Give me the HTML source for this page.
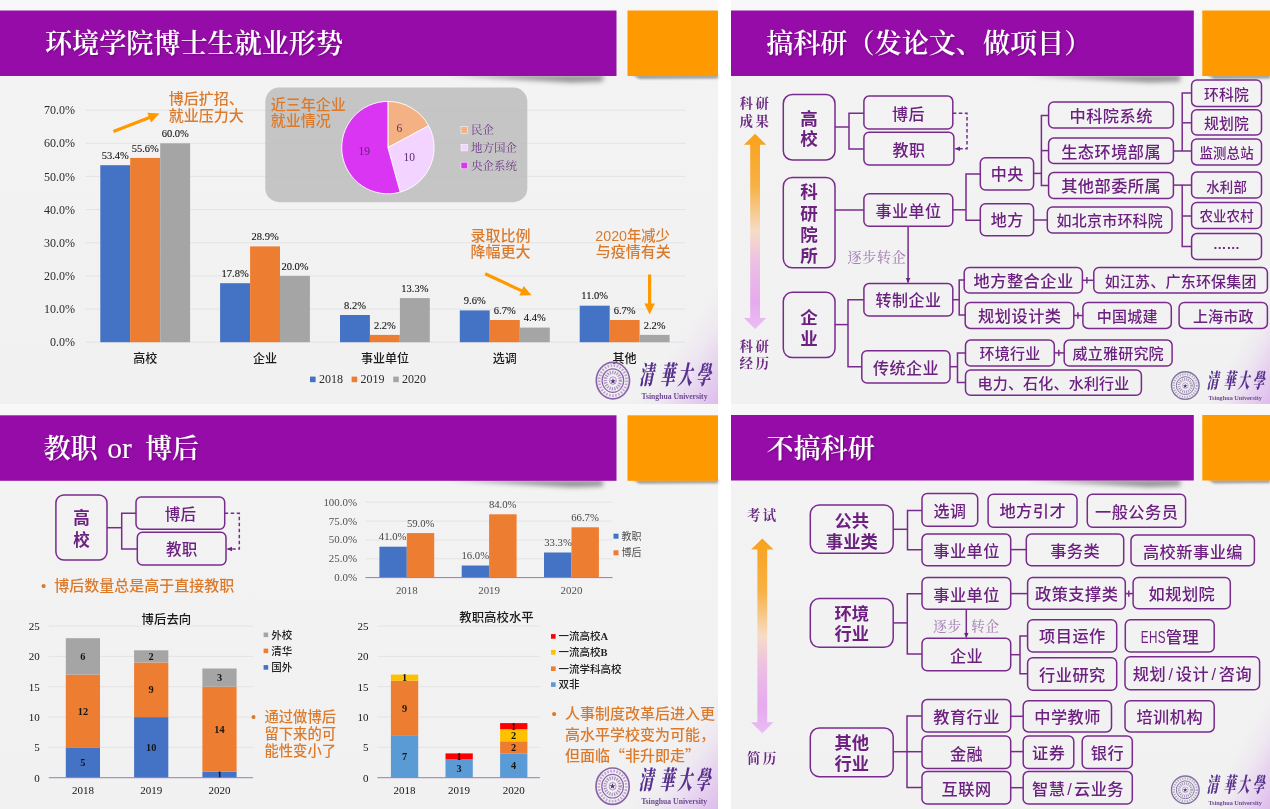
<!DOCTYPE html>
<html lang="zh"><head><meta charset="utf-8"><title>环境学院博士生就业形势</title>
<style>
html,body{margin:0;padding:0;background:#fff;}
body{width:1270px;height:809px;overflow:hidden;}
svg{display:block;}
text{font-family:"Liberation Sans","Noto Sans CJK SC",sans-serif;}
.ttl{font-family:"Liberation Serif","Noto Serif CJK SC",serif;font-size:27.1px;fill:#fff;font-weight:600;}
.ax{font-family:"Liberation Serif",serif;font-size:12px;fill:#2a2a2a;}
.dl{font-family:"Liberation Serif",serif;font-size:10.5px;fill:#111;stroke:#111;stroke-width:0.1;}
.cat{font-size:12px;fill:#1a1a1a;font-weight:500;}
.or{font-size:15px;fill:#dc7a2c;font-weight:500;}
.pl{font-family:"Liberation Serif",serif;font-size:11.5px;fill:#5d2a73;}
.lg{font-family:"Liberation Serif","Noto Serif CJK SC",serif;font-size:11.5px;fill:#6d3a86;}
.en{font-family:"Liberation Serif",serif;fill:#6d4a92;font-weight:700;}
.cal{font-family:"Noto Serif CJK TC","Noto Serif CJK SC",serif;font-weight:900;fill:#56308c;}
.ln{fill:none;stroke:#792b8d;stroke-width:1.5;}
.bx{fill:none;stroke:#792b8d;stroke-width:1.5;}
.bt{fill:#6c2080;}
.kai{font-family:"Liberation Serif","Noto Serif CJK SC",serif;fill:#6a2a82;font-size:13.4px;font-weight:700;}
.kai2{font-family:"Liberation Serif","Noto Serif CJK SC",serif;fill:#a886b8;font-size:14px;font-weight:500;}
.ax2{font-family:"Liberation Serif",serif;font-size:10.9px;fill:#505050;}
.dl2{font-family:"Liberation Serif",serif;font-size:10.7px;fill:#454545;}
.ax3{font-family:"Liberation Serif",serif;font-size:11px;fill:#151515;}
.dl3{font-family:"Liberation Serif",serif;font-size:10.3px;fill:#151515;font-weight:700;}
.ct{font-size:12.4px;fill:#1a1a1a;font-weight:500;}
.lg3{font-size:10.5px;fill:#222;font-weight:500;}
</style></head><body>
<svg width="1270" height="809" viewBox="0 0 1270 809">
<defs>
<linearGradient id="bgv" x1="0" y1="0" x2="0" y2="1"><stop offset="0" stop-color="#f8f8f8"/><stop offset="0.12" stop-color="#f3f3f3"/><stop offset="1" stop-color="#f1f1f1"/></linearGradient>
<radialGradient id="pk" cx="1" cy="1" r="1"><stop offset="0" stop-color="#d8aaec" stop-opacity="0.8"/><stop offset="0.5" stop-color="#dcb6ee" stop-opacity="0.42"/><stop offset="1" stop-color="#e8d0f4" stop-opacity="0"/></radialGradient>
<filter id="sh" x="-5%" y="-20%" width="110%" height="150%"><feDropShadow dx="0" dy="2" stdDeviation="2" flood-color="#000" flood-opacity="0.28"/></filter>
<filter id="sh2" x="-10%" y="-20%" width="120%" height="150%"><feDropShadow dx="0" dy="1.5" stdDeviation="1.5" flood-color="#000" flood-opacity="0.25"/></filter>
<filter id="bl" x="-10%" y="-200%" width="120%" height="500%"><feGaussianBlur stdDeviation="2.6"/></filter><filter id="bl2" x="-10%" y="-200%" width="120%" height="500%"><feGaussianBlur stdDeviation="1.3"/></filter>
<filter id="ts" x="-5%" y="-20%" width="110%" height="150%"><feDropShadow dx="1" dy="1" stdDeviation="1" flood-color="#400050" flood-opacity="0.5"/></filter>
<linearGradient id="ar" x1="0" y1="0" x2="0" y2="1"><stop offset="0" stop-color="#f9a11b"/><stop offset="0.27" stop-color="#f8b145"/><stop offset="0.5" stop-color="#f6dcc6"/><stop offset="0.66" stop-color="#ecbfe4"/><stop offset="0.86" stop-color="#e6aaee"/><stop offset="1" stop-color="#eabdf3"/></linearGradient>
<marker id="ah" markerWidth="6" markerHeight="6" refX="4.6" refY="2.5" orient="auto" markerUnits="userSpaceOnUse"><path d="M0 0.2L5.2 2.5L0 4.8Z" fill="#6a2580"/></marker>
</defs>

<rect x="0.0" y="0.0" width="718.0" height="809.0" fill="#f0f0f0"/>
<rect x="731.0" y="0.0" width="539.0" height="809.0" fill="#f0f0f0"/>
<rect x="0" y="0" width="718" height="404" fill="url(#bgv)"/>
<linearGradient id="pk0_0" gradientUnits="userSpaceOnUse" x1="662" y1="362" x2="718" y2="404"><stop offset="0" stop-color="#dcb4ee" stop-opacity="0"/><stop offset="0.3" stop-color="#dcb4ee" stop-opacity="0.14"/><stop offset="0.65" stop-color="#dab0ed" stop-opacity="0.48"/><stop offset="1" stop-color="#d6a8eb" stop-opacity="0.74"/></linearGradient>
<polygon points="626,404 718,282 718,404" fill="url(#pk0_0)"/>
<rect x="731" y="0" width="539" height="404" fill="url(#bgv)"/>
<linearGradient id="pk731_0" gradientUnits="userSpaceOnUse" x1="1220" y1="375" x2="1270" y2="404"><stop offset="0" stop-color="#dcb4ee" stop-opacity="0"/><stop offset="0.3" stop-color="#dcb4ee" stop-opacity="0.14"/><stop offset="0.65" stop-color="#dab0ed" stop-opacity="0.48"/><stop offset="1" stop-color="#d6a8eb" stop-opacity="0.74"/></linearGradient>
<polygon points="1200,404 1270,282 1270,404" fill="url(#pk731_0)"/>
<rect x="0" y="404" width="718" height="405" fill="url(#bgv)"/>
<linearGradient id="pk0_404" gradientUnits="userSpaceOnUse" x1="662" y1="767" x2="718" y2="809"><stop offset="0" stop-color="#dcb4ee" stop-opacity="0"/><stop offset="0.3" stop-color="#dcb4ee" stop-opacity="0.14"/><stop offset="0.65" stop-color="#dab0ed" stop-opacity="0.48"/><stop offset="1" stop-color="#d6a8eb" stop-opacity="0.74"/></linearGradient>
<polygon points="626,809 718,687 718,809" fill="url(#pk0_404)"/>
<rect x="731" y="404" width="539" height="405" fill="url(#bgv)"/>
<linearGradient id="pk731_404" gradientUnits="userSpaceOnUse" x1="1220" y1="780" x2="1270" y2="809"><stop offset="0" stop-color="#dcb4ee" stop-opacity="0"/><stop offset="0.3" stop-color="#dcb4ee" stop-opacity="0.14"/><stop offset="0.65" stop-color="#dab0ed" stop-opacity="0.48"/><stop offset="1" stop-color="#d6a8eb" stop-opacity="0.74"/></linearGradient>
<polygon points="1200,809 1270,687 1270,809" fill="url(#pk731_404)"/>
<polygon points="446.5,75.0 603.5,75.0 602.5,81.5 571.5,82.5" fill="#000" fill-opacity="0.4" filter="url(#bl)"/>
<polygon points="632.5,75.0 718.0,75.0 718.0,78.5 639.5,79.0" fill="#000" fill-opacity="0.35" filter="url(#bl2)"/>
<rect x="0.0" y="10.5" width="616.5" height="65.5" fill="#960ca8"/>
<rect x="627.5" y="10.5" width="90.5" height="65.5" fill="#ff9900"/>
<text x="45.0" y="53.4" class="ttl" filter="url(#ts)">环境学院博士生就业形势</text>
<line x1="85.6" y1="342.2" x2="685.4" y2="342.2" stroke="#e3e3e3" stroke-width="1"/>
<text x="75.0" y="346.3" class="ax" text-anchor="end">0.0%</text>
<line x1="85.6" y1="309.1" x2="685.4" y2="309.1" stroke="#e3e3e3" stroke-width="1"/>
<text x="75.0" y="313.2" class="ax" text-anchor="end">10.0%</text>
<line x1="85.6" y1="275.9" x2="685.4" y2="275.9" stroke="#e3e3e3" stroke-width="1"/>
<text x="75.0" y="280.0" class="ax" text-anchor="end">20.0%</text>
<line x1="85.6" y1="242.8" x2="685.4" y2="242.8" stroke="#e3e3e3" stroke-width="1"/>
<text x="75.0" y="246.8" class="ax" text-anchor="end">30.0%</text>
<line x1="85.6" y1="209.6" x2="685.4" y2="209.6" stroke="#e3e3e3" stroke-width="1"/>
<text x="75.0" y="213.7" class="ax" text-anchor="end">40.0%</text>
<line x1="85.6" y1="176.4" x2="685.4" y2="176.4" stroke="#e3e3e3" stroke-width="1"/>
<text x="75.0" y="180.5" class="ax" text-anchor="end">50.0%</text>
<line x1="85.6" y1="143.3" x2="685.4" y2="143.3" stroke="#e3e3e3" stroke-width="1"/>
<text x="75.0" y="147.4" class="ax" text-anchor="end">60.0%</text>
<line x1="85.6" y1="110.2" x2="685.4" y2="110.2" stroke="#e3e3e3" stroke-width="1"/>
<text x="75.0" y="114.2" class="ax" text-anchor="end">70.0%</text>
<rect x="265.3" y="87.6" width="262" height="114.6" rx="14" ry="14" fill="#bebebe" fill-opacity="0.88"/>
<rect x="100.3" y="165.2" width="30.0" height="177.0" fill="#4472c4"/>
<text x="115.3" y="158.8" class="dl" text-anchor="middle">53.4%</text>
<rect x="130.2" y="157.9" width="29.9" height="184.3" fill="#ed7d31"/>
<text x="145.2" y="151.5" class="dl" text-anchor="middle">55.6%</text>
<rect x="160.2" y="143.3" width="29.9" height="198.9" fill="#a5a5a5"/>
<text x="175.2" y="136.9" class="dl" text-anchor="middle">60.0%</text>
<text x="145.2" y="363.0" class="cat" text-anchor="middle">高校</text>
<rect x="220.1" y="283.2" width="29.9" height="59.0" fill="#4472c4"/>
<text x="235.1" y="276.8" class="dl" text-anchor="middle">17.8%</text>
<rect x="250.1" y="246.4" width="29.9" height="95.8" fill="#ed7d31"/>
<text x="265.1" y="240.0" class="dl" text-anchor="middle">28.9%</text>
<rect x="280.0" y="275.9" width="29.9" height="66.3" fill="#a5a5a5"/>
<text x="295.0" y="269.5" class="dl" text-anchor="middle">20.0%</text>
<text x="265.1" y="363.0" class="cat" text-anchor="middle">企业</text>
<rect x="340.0" y="315.0" width="29.9" height="27.2" fill="#4472c4"/>
<text x="355.0" y="308.6" class="dl" text-anchor="middle">8.2%</text>
<rect x="369.9" y="334.9" width="29.9" height="7.3" fill="#ed7d31"/>
<text x="384.9" y="328.5" class="dl" text-anchor="middle">2.2%</text>
<rect x="399.9" y="298.1" width="29.9" height="44.1" fill="#a5a5a5"/>
<text x="414.9" y="291.7" class="dl" text-anchor="middle">13.3%</text>
<text x="384.9" y="363.0" class="cat" text-anchor="middle">事业单位</text>
<rect x="459.8" y="310.4" width="29.9" height="31.8" fill="#4472c4"/>
<text x="474.8" y="304.0" class="dl" text-anchor="middle">9.6%</text>
<rect x="489.8" y="320.0" width="30.0" height="22.2" fill="#ed7d31"/>
<text x="504.8" y="313.6" class="dl" text-anchor="middle">6.7%</text>
<rect x="519.8" y="327.6" width="30.0" height="14.6" fill="#a5a5a5"/>
<text x="534.7" y="321.2" class="dl" text-anchor="middle">4.4%</text>
<text x="504.8" y="363.0" class="cat" text-anchor="middle">选调</text>
<rect x="579.7" y="305.7" width="30.0" height="36.5" fill="#4472c4"/>
<text x="594.7" y="299.3" class="dl" text-anchor="middle">11.0%</text>
<rect x="609.6" y="320.0" width="30.0" height="22.2" fill="#ed7d31"/>
<text x="624.6" y="313.6" class="dl" text-anchor="middle">6.7%</text>
<rect x="639.6" y="334.9" width="30.0" height="7.3" fill="#a5a5a5"/>
<text x="654.6" y="328.5" class="dl" text-anchor="middle">2.2%</text>
<text x="624.6" y="363.0" class="cat" text-anchor="middle">其他</text>
<rect x="310.0" y="376.6" width="5.6" height="5.6" fill="#4472c4"/>
<text x="318.9" y="383.4" class="ax">2018</text>
<rect x="351.6" y="376.6" width="5.6" height="5.6" fill="#ed7d31"/>
<text x="360.5" y="383.4" class="ax">2019</text>
<rect x="393.2" y="376.6" width="5.6" height="5.6" fill="#a5a5a5"/>
<text x="402.0" y="383.4" class="ax">2020</text>
<text x="168.8" y="104.4" class="or">博后扩招、</text>
<text x="168.8" y="121.0" class="or">就业压力大</text>
<text x="270.7" y="110.0" class="or">近三年企业</text>
<text x="270.7" y="125.7" class="or">就业情况</text>
<text x="470.5" y="240.8" class="or">录取比例</text>
<text x="470.5" y="257.2" class="or">降幅更大</text>
<text x="595.3" y="241.0" class="or" textLength="74.6" lengthAdjust="spacingAndGlyphs">2020年减少</text>
<text x="595.8" y="257.2" class="or">与疫情有关</text>
<line x1="113.4" y1="131.5" x2="150.2" y2="117.2" stroke="#ff9900" stroke-width="3.2"/>
<polygon points="159.5,113.6 151.1,122.5 147.3,112.7" fill="#ff9900"/>
<line x1="485.1" y1="273.8" x2="522.4" y2="291.1" stroke="#ff9900" stroke-width="3.2"/>
<polygon points="531.5,295.3 519.3,295.4 523.7,285.9" fill="#ff9900"/>
<line x1="649.6" y1="274.5" x2="649.6" y2="304.6" stroke="#ff9900" stroke-width="3.2"/>
<polygon points="649.6,314.6 644.4,303.6 654.9,303.6" fill="#ff9900"/>
<path d="M387.9 147.6L387.90 101.40A46.2 46.2 0 0 1 428.58 125.71Z" fill="#f4b183" stroke="#fff" stroke-width="0.9" stroke-linejoin="round"/>
<path d="M387.9 147.6L428.58 125.71A46.2 46.2 0 0 1 400.19 192.14Z" fill="#f3d3ff" stroke="#fff" stroke-width="0.9" stroke-linejoin="round"/>
<path d="M387.9 147.6L400.19 192.14A46.2 46.2 0 1 1 387.90 101.40Z" fill="#d935f2" stroke="#fff" stroke-width="0.9" stroke-linejoin="round"/>
<text x="399.4" y="132.3" class="pl" text-anchor="middle">6</text>
<text x="409.3" y="161.1" class="pl" text-anchor="middle">10</text>
<text x="364.2" y="155.0" class="pl" text-anchor="middle">19</text>
<rect x="461" y="126.7" width="6.6" height="6.6" fill="#f4b183" stroke="#fff" stroke-width="0.5"/>
<text x="471.0" y="134.1" class="lg">民企</text>
<rect x="461" y="144.3" width="6.6" height="6.6" fill="#f3d3ff" stroke="#fff" stroke-width="0.5"/>
<text x="471.0" y="151.7" class="lg">地方国企</text>
<rect x="461" y="162.2" width="6.6" height="6.6" fill="#d935f2" stroke="#fff" stroke-width="0.5"/>
<text x="471.0" y="169.6" class="lg">央企系统</text>
<g fill="none" stroke="#7a4a9e" opacity="0.85">
<ellipse cx="612.9" cy="380.6" rx="16.6" ry="18.2" stroke-width="1.70"/>
<ellipse cx="612.9" cy="380.6" rx="13.7" ry="15.1" stroke-width="2.61" stroke-dasharray="1.60 1.50" opacity="0.55"/>
<ellipse cx="612.9" cy="380.6" rx="10.8" ry="11.8" stroke-width="1.20"/>
<ellipse cx="612.9" cy="380.6" rx="7.5" ry="8.2" stroke-width="3.48" stroke-dasharray="1.30 1.10" opacity="0.65"/>
<ellipse cx="612.9" cy="380.6" rx="3.5" ry="3.8" stroke-width="0.80" opacity="0.8"/>
</g>
<text x="612.9" y="382.7" text-anchor="middle" font-size="6.5" fill="#5a2a86" font-family='"Liberation Serif","Noto Serif CJK SC",serif'>★</text>
<text class="cal" font-size="14.6" transform="translate(638.9 383.8) skewX(-11) scale(1,1.75)">清</text>
<text class="cal" font-size="14.6" transform="translate(659.9 383.8) skewX(-11) scale(1,1.75)">華</text>
<text class="cal" font-size="14.6" transform="translate(677.5 383.8) skewX(-11) scale(1,1.75)">大</text>
<text class="cal" font-size="14.6" transform="translate(695.9 383.8) skewX(-11) scale(1,1.75)">學</text>
<text x="674.5" y="398.8" text-anchor="middle" class="en" font-size="7.70" textLength="66.0" lengthAdjust="spacingAndGlyphs">Tsinghua University</text>
<polygon points="1023.8,75.0 1180.8,75.0 1179.8,81.5 1148.8,82.5" fill="#000" fill-opacity="0.4" filter="url(#bl)"/>
<polygon points="1207.3,75.0 1270.0,75.0 1270.0,78.5 1214.3,79.0" fill="#000" fill-opacity="0.35" filter="url(#bl2)"/>
<rect x="731.0" y="10.5" width="462.8" height="65.5" fill="#960ca8"/>
<rect x="1202.3" y="10.5" width="67.7" height="65.5" fill="#ff9900"/>
<text x="766.2" y="53.4" class="ttl" filter="url(#ts)">搞科研（发论文、做项目）</text>
<text x="755.4" y="107.6" class="kai" text-anchor="middle" letter-spacing="2.5">科研</text>
<text x="755.4" y="125.6" class="kai" text-anchor="middle" letter-spacing="2.5">成果</text>
<text x="755.4" y="350.5" class="kai" text-anchor="middle" letter-spacing="2.5">科研</text>
<text x="755.4" y="368.1" class="kai" text-anchor="middle" letter-spacing="2.5">经历</text>
<polygon points="755.1,133.8 766.3,144.8 760.0,144.8 760.0,317.9 766.3,317.9 755.1,328.9 743.9,317.9 750.2,317.9 750.2,144.8 743.9,144.8" fill="url(#ar)"/>
<rect x="783.3" y="94.5" width="51.7" height="65.5" rx="9" ry="9" class="bx"/>
<text x="809.1" y="124.8" text-anchor="middle" font-size="17.5" font-weight="700" class="bt">高</text>
<text x="809.1" y="145.4" text-anchor="middle" font-size="17.5" font-weight="700" class="bt">校</text>
<rect x="783.3" y="177.4" width="51.7" height="90.4" rx="9" ry="9" class="bx"/>
<text x="809.1" y="198.3" text-anchor="middle" font-size="17.5" font-weight="700" class="bt">科</text>
<text x="809.1" y="219.6" text-anchor="middle" font-size="17.5" font-weight="700" class="bt">研</text>
<text x="809.1" y="241.0" text-anchor="middle" font-size="17.5" font-weight="700" class="bt">院</text>
<text x="809.1" y="262.3" text-anchor="middle" font-size="17.5" font-weight="700" class="bt">所</text>
<rect x="783.3" y="292.3" width="51.7" height="65.3" rx="9" ry="9" class="bx"/>
<text x="809.1" y="323.5" text-anchor="middle" font-size="17.5" font-weight="700" class="bt">企</text>
<text x="809.1" y="344.7" text-anchor="middle" font-size="17.5" font-weight="700" class="bt">业</text>
<rect x="863.9" y="96.1" width="88.9" height="33.0" rx="5.2" ry="5.2" class="bx"/>
<text x="908.6" y="120.1" text-anchor="middle" font-size="16" font-weight="500" letter-spacing="0.5" class="bt">博后</text>
<rect x="863.9" y="132.3" width="90.0" height="32.7" rx="5.2" ry="5.2" class="bx"/>
<text x="909.1" y="156.0" text-anchor="middle" font-size="16" font-weight="500" letter-spacing="0.5" class="bt">教职</text>
<path d="M835.0 127.0 L849.0 127.0" class="ln"/>
<path d="M863.9 113.2 L849.0 113.2 L849.0 149.1 L863.9 149.1" class="ln"/>
<path d="M952.8 113.2L967 113.2L967 148.7L955.5 148.7" class="ln" stroke-dasharray="3.5 2.5" marker-end="url(#ah)"/>
<rect x="863.9" y="193.7" width="88.9" height="32.6" rx="5.2" ry="5.2" class="bx"/>
<text x="908.6" y="217.0" text-anchor="middle" font-size="16" font-weight="500" letter-spacing="0.5" class="bt">事业单位</text>
<path d="M835.0 210.0 L863.9 210.0" class="ln"/>
<path d="M952.8 209.8 L966.0 209.8" class="ln"/>
<path d="M980.3 174.0 L966.0 174.0 L966.0 220.2 L980.3 220.2" class="ln"/>
<rect x="980.3" y="157.8" width="53.3" height="32.2" rx="5.2" ry="5.2" class="bx"/>
<text x="1007.2" y="180.4" text-anchor="middle" font-size="16" font-weight="500" letter-spacing="0.5" class="bt">中央</text>
<rect x="980.3" y="203.8" width="53.3" height="32.0" rx="5.2" ry="5.2" class="bx"/>
<text x="1007.2" y="226.4" text-anchor="middle" font-size="16" font-weight="500" letter-spacing="0.5" class="bt">地方</text>
<path d="M1033.6 173.4 L1041.4 173.4" class="ln"/>
<path d="M1048.6 115.5 L1041.4 115.5 L1041.4 185.6 L1048.6 185.6" class="ln"/>
<path d="M1041.4 150.6 L1048.6 150.6" class="ln"/>
<rect x="1048.6" y="102.0" width="124.8" height="26.0" rx="5.2" ry="5.2" class="bx"/>
<text x="1111.2" y="121.9" text-anchor="middle" font-size="16.2" font-weight="500" letter-spacing="0.5" class="bt">中科院系统</text>
<rect x="1048.6" y="138.1" width="124.8" height="25.5" rx="5.2" ry="5.2" class="bx"/>
<text x="1111.2" y="157.5" text-anchor="middle" font-size="16.2" font-weight="500" letter-spacing="0.5" class="bt">生态环境部属</text>
<rect x="1048.6" y="172.6" width="124.8" height="26.0" rx="5.2" ry="5.2" class="bx"/>
<text x="1111.2" y="192.4" text-anchor="middle" font-size="16.2" font-weight="500" letter-spacing="0.5" class="bt">其他部委所属</text>
<rect x="1047.3" y="207.0" width="124.7" height="26.0" rx="5.2" ry="5.2" class="bx"/>
<text x="1109.8" y="225.9" text-anchor="middle" font-size="15" font-weight="500" letter-spacing="0.2" class="bt">如北京市环科院</text>
<path d="M1033.6 220.0 L1047.3 220.0" class="ln"/>
<path d="M1173.4 151.0 L1191.6 151.0" class="ln"/>
<path d="M1191.6 92.9 L1182.2 92.9 L1182.2 151.0" class="ln"/>
<path d="M1182.2 122.8 L1191.6 122.8" class="ln"/>
<rect x="1191.6" y="79.9" width="69.9" height="26.5" rx="5.2" ry="5.2" class="bx"/>
<text x="1226.6" y="100.3" text-anchor="middle" font-size="14.8" font-weight="500" letter-spacing="0.2" class="bt">环科院</text>
<rect x="1191.6" y="109.8" width="69.9" height="25.2" rx="5.2" ry="5.2" class="bx"/>
<text x="1226.6" y="129.1" text-anchor="middle" font-size="14.8" font-weight="500" letter-spacing="0.2" class="bt">规划院</text>
<rect x="1191.6" y="138.9" width="69.9" height="26.0" rx="5.2" ry="5.2" class="bx"/>
<text x="1226.6" y="157.8" text-anchor="middle" font-size="13.4" font-weight="500" letter-spacing="0.2" class="bt">监测总站</text>
<path d="M1173.4 185.1 L1191.6 185.1" class="ln"/>
<path d="M1182.2 185.1 L1182.2 246.6 L1191.6 246.6" class="ln"/>
<path d="M1182.2 216.0 L1191.6 216.0" class="ln"/>
<rect x="1191.6" y="172.1" width="69.9" height="26.0" rx="5.2" ry="5.2" class="bx"/>
<text x="1226.6" y="191.5" text-anchor="middle" font-size="13.4" font-weight="500" letter-spacing="0.2" class="bt">水利部</text>
<rect x="1191.6" y="202.5" width="69.9" height="26.0" rx="5.2" ry="5.2" class="bx"/>
<text x="1226.6" y="221.4" text-anchor="middle" font-size="13.4" font-weight="500" letter-spacing="0.2" class="bt">农业农村</text>
<rect x="1191.6" y="233.6" width="69.9" height="26.0" rx="5.2" ry="5.2" class="bx"/>
<text x="1226.6" y="249.3" text-anchor="middle" font-size="13.4" font-weight="700" letter-spacing="0.2" class="bt">……</text>
<path d="M908.1 226.3L908.1 282.6" class="ln" marker-end="url(#ah)"/>
<text x="877.0" y="261.5" class="kai2" text-anchor="middle" letter-spacing="0.8">逐步转企</text>
<rect x="863.9" y="283.6" width="88.9" height="32.5" rx="5.2" ry="5.2" class="bx"/>
<text x="908.6" y="306.4" text-anchor="middle" font-size="16" font-weight="500" letter-spacing="0.5" class="bt">转制企业</text>
<rect x="861.8" y="350.7" width="88.2" height="32.4" rx="5.2" ry="5.2" class="bx"/>
<text x="906.1" y="373.8" text-anchor="middle" font-size="16" font-weight="500" letter-spacing="0.5" class="bt">传统企业</text>
<path d="M835.0 324.6 L848.0 324.6" class="ln"/>
<path d="M863.9 299.7 L848.0 299.7 L848.0 366.7 L861.8 366.7" class="ln"/>
<path d="M952.8 299.7 L959.2 299.7" class="ln"/>
<path d="M964.2 280.0 L959.2 280.0 L959.2 315.0 L965.2 315.0" class="ln"/>
<path d="M950.0 366.7 L957.5 366.7" class="ln"/>
<path d="M965.5 352.9 L957.5 352.9 L957.5 382.6 L965.5 382.6" class="ln"/>
<rect x="964.2" y="267.4" width="118.2" height="25.7" rx="5.2" ry="5.2" class="bx"/>
<text x="1023.6" y="287.3" text-anchor="middle" font-size="16.2" font-weight="500" letter-spacing="0.5" class="bt">地方整合企业</text>
<rect x="1093.8" y="267.4" width="173.6" height="25.7" rx="5.2" ry="5.2" class="bx"/>
<text x="1180.7" y="286.9" text-anchor="middle" font-size="15" font-weight="500" letter-spacing="0.2" class="bt">如江苏、广东环保集团</text>
<path d="M1082.4 280.3 L1093.8 280.3" class="ln"/>
<path d="M1086.9 277.1 L1086.9 283.5" class="ln"/>
<rect x="965.2" y="302.4" width="108.6" height="26.0" rx="5.2" ry="5.2" class="bx"/>
<text x="1019.8" y="322.3" text-anchor="middle" font-size="16.2" font-weight="500" letter-spacing="0.5" class="bt">规划设计类</text>
<rect x="1082.9" y="302.4" width="88.4" height="26.0" rx="5.2" ry="5.2" class="bx"/>
<text x="1127.2" y="321.9" text-anchor="middle" font-size="15" font-weight="500" letter-spacing="0.2" class="bt">中国城建</text>
<path d="M1073.8 315.5 L1082.9 315.5" class="ln"/>
<path d="M1077.9 312.3 L1077.9 318.7" class="ln"/>
<rect x="1179.1" y="302.4" width="88.3" height="26.0" rx="5.2" ry="5.2" class="bx"/>
<text x="1223.3" y="321.9" text-anchor="middle" font-size="15" font-weight="500" letter-spacing="0.2" class="bt">上海市政</text>
<rect x="965.5" y="340.1" width="88.8" height="26.0" rx="5.2" ry="5.2" class="bx"/>
<text x="1010.0" y="358.8" text-anchor="middle" font-size="15" font-weight="500" letter-spacing="0.2" class="bt">环境行业</text>
<rect x="1064.2" y="340.1" width="107.9" height="26.0" rx="5.2" ry="5.2" class="bx"/>
<text x="1118.2" y="358.8" text-anchor="middle" font-size="15" font-weight="500" letter-spacing="0.2" class="bt">威立雅研究院</text>
<path d="M1054.3 352.9 L1064.2 352.9" class="ln"/>
<path d="M1058.8 349.7 L1058.8 356.1" class="ln"/>
<rect x="965.5" y="370.0" width="175.9" height="25.2" rx="5.2" ry="5.2" class="bx"/>
<text x="1053.5" y="388.7" text-anchor="middle" font-size="15" font-weight="500" letter-spacing="0.2" class="bt">电力、石化、水利行业</text>
<g fill="none" stroke="#6f5a94" opacity="0.85">
<ellipse cx="1185.3" cy="385.6" rx="13.8" ry="13.8" stroke-width="1.38"/>
<ellipse cx="1185.3" cy="385.6" rx="11.5" ry="11.4" stroke-width="2.17" stroke-dasharray="1.30 1.22" opacity="0.55"/>
<ellipse cx="1185.3" cy="385.6" rx="9.0" ry="8.9" stroke-width="0.97"/>
<ellipse cx="1185.3" cy="385.6" rx="6.2" ry="6.2" stroke-width="2.90" stroke-dasharray="1.05 0.89" opacity="0.65"/>
<ellipse cx="1185.3" cy="385.6" rx="2.9" ry="2.9" stroke-width="0.65" opacity="0.8"/>
</g>
<text x="1185.3" y="387.2" text-anchor="middle" font-size="4.9" fill="#5a2a86" font-family='"Liberation Serif","Noto Serif CJK SC",serif'>★</text>
<text class="cal" font-size="11.8" transform="translate(1206.4 388.2) skewX(-11) scale(1,1.75)">清</text>
<text class="cal" font-size="11.8" transform="translate(1223.4 388.2) skewX(-11) scale(1,1.75)">華</text>
<text class="cal" font-size="11.8" transform="translate(1237.6 388.2) skewX(-11) scale(1,1.75)">大</text>
<text class="cal" font-size="11.8" transform="translate(1252.5 388.2) skewX(-11) scale(1,1.75)">學</text>
<text x="1235.2" y="400.3" text-anchor="middle" class="en" font-size="6.24" textLength="53.5" lengthAdjust="spacingAndGlyphs">Tsinghua University</text>
<polygon points="446.5,479.8 603.5,479.8 602.5,486.3 571.5,487.3" fill="#000" fill-opacity="0.4" filter="url(#bl)"/>
<polygon points="632.5,479.8 718.0,479.8 718.0,483.3 639.5,483.8" fill="#000" fill-opacity="0.35" filter="url(#bl2)"/>
<rect x="0.0" y="415.3" width="616.5" height="65.5" fill="#960ca8"/>
<rect x="627.5" y="415.3" width="90.5" height="65.5" fill="#ff9900"/>
<text x="43.4" y="458.2" class="ttl" filter="url(#ts)">教职<tspan x="107.3" font-size="29.5" font-weight="400">or</tspan><tspan x="145">博后</tspan></text>
<rect x="55.9" y="495.0" width="51.1" height="65.0" rx="8" ry="8" class="bx"/>
<text x="81.5" y="523.5" text-anchor="middle" font-size="16.5" font-weight="700" class="bt">高</text>
<text x="81.5" y="546.2" text-anchor="middle" font-size="16.5" font-weight="700" class="bt">校</text>
<rect x="136.0" y="497.0" width="88.7" height="32.2" rx="5.2" ry="5.2" class="bx"/>
<text x="180.4" y="519.6" text-anchor="middle" font-size="15.5" font-weight="500" letter-spacing="0.2" class="bt">博后</text>
<rect x="137.3" y="532.2" width="88.7" height="32.8" rx="5.2" ry="5.2" class="bx"/>
<text x="181.8" y="555.2" text-anchor="middle" font-size="15.5" font-weight="500" letter-spacing="0.2" class="bt">教职</text>
<path d="M107.0 527.7 L121.7 527.7" class="ln"/>
<path d="M136.0 513.3 L121.7 513.3 L121.7 549.1 L137.3 549.1" class="ln"/>
<path d="M224.7 513.3L239.3 513.3L239.3 549.1L227.5 549.1" class="ln" stroke-dasharray="3.5 2.5" marker-end="url(#ah)"/>
<text x="41.0" y="591.2" class="or">•</text>
<text x="54.2" y="591.2" class="or">博后数量总是高于直接教职</text>
<text x="357.0" y="581.1" class="ax2" text-anchor="end">0.0%</text>
<line x1="365.5" y1="558.8" x2="612.5" y2="558.8" stroke="#e3e3e3" stroke-width="1"/>
<text x="357.0" y="562.2" class="ax2" text-anchor="end">25.0%</text>
<line x1="365.5" y1="539.9" x2="612.5" y2="539.9" stroke="#e3e3e3" stroke-width="1"/>
<text x="357.0" y="543.4" class="ax2" text-anchor="end">50.0%</text>
<line x1="365.5" y1="521.1" x2="612.5" y2="521.1" stroke="#e3e3e3" stroke-width="1"/>
<text x="357.0" y="524.6" class="ax2" text-anchor="end">75.0%</text>
<line x1="365.5" y1="502.2" x2="612.5" y2="502.2" stroke="#e3e3e3" stroke-width="1"/>
<text x="357.0" y="505.7" class="ax2" text-anchor="end">100.0%</text>
<rect x="379.4" y="546.7" width="27.4" height="30.9" fill="#4472c4"/>
<rect x="406.8" y="533.1" width="27.4" height="44.5" fill="#ed7d31"/>
<text x="406.8" y="594.0" class="ax2" text-anchor="middle">2018</text>
<rect x="461.7" y="565.5" width="27.4" height="12.1" fill="#4472c4"/>
<rect x="489.1" y="514.3" width="27.5" height="63.3" fill="#ed7d31"/>
<text x="489.1" y="594.0" class="ax2" text-anchor="middle">2019</text>
<rect x="544.0" y="552.5" width="27.5" height="25.1" fill="#4472c4"/>
<rect x="571.5" y="527.3" width="27.4" height="50.3" fill="#ed7d31"/>
<text x="571.5" y="594.0" class="ax2" text-anchor="middle">2020</text>
<line x1="365.5" y1="577.6" x2="612.5" y2="577.6" stroke="#a673bd" stroke-width="1"/>
<text x="392.6" y="540.3" class="dl2" text-anchor="middle">41.0%</text>
<text x="420.7" y="527.1" class="dl2" text-anchor="middle">59.0%</text>
<text x="475.3" y="559.4" class="dl2" text-anchor="middle">16.0%</text>
<text x="502.7" y="508.2" class="dl2" text-anchor="middle">84.0%</text>
<text x="558.0" y="546.2" class="dl2" text-anchor="middle">33.3%</text>
<text x="585.0" y="521.4" class="dl2" text-anchor="middle">66.7%</text>
<rect x="613.5" y="533.7" width="5.0" height="5.0" fill="#4472c4"/>
<text x="621.4" y="539.8" class="ax2" style="font-family:'Liberation Sans','Noto Sans CJK SC',sans-serif;font-size:10px">教职</text>
<rect x="613.5" y="550.3" width="5.0" height="5.0" fill="#ed7d31"/>
<text x="621.4" y="556.4" class="ax2" style="font-family:'Liberation Sans','Noto Sans CJK SC',sans-serif;font-size:10px">博后</text>
<text x="166.4" y="623.6" class="ct" text-anchor="middle">博后去向</text>
<text x="39.7" y="781.5" class="ax3" text-anchor="end">0</text>
<line x1="48.8" y1="747.4" x2="253.1" y2="747.4" stroke="#e3e3e3" stroke-width="1"/>
<text x="39.7" y="751.2" class="ax3" text-anchor="end">5</text>
<line x1="48.8" y1="717.1" x2="253.1" y2="717.1" stroke="#e3e3e3" stroke-width="1"/>
<text x="39.7" y="720.9" class="ax3" text-anchor="end">10</text>
<line x1="48.8" y1="686.7" x2="253.1" y2="686.7" stroke="#e3e3e3" stroke-width="1"/>
<text x="39.7" y="690.5" class="ax3" text-anchor="end">15</text>
<line x1="48.8" y1="656.4" x2="253.1" y2="656.4" stroke="#e3e3e3" stroke-width="1"/>
<text x="39.7" y="660.2" class="ax3" text-anchor="end">20</text>
<line x1="48.8" y1="626.1" x2="253.1" y2="626.1" stroke="#e3e3e3" stroke-width="1"/>
<text x="39.7" y="629.9" class="ax3" text-anchor="end">25</text>
<rect x="65.8" y="747.4" width="34.2" height="30.3" fill="#4472c4"/>
<text x="82.9" y="766.1" class="dl3" text-anchor="middle">5</text>
<rect x="65.8" y="674.6" width="34.2" height="72.8" fill="#ed7d31"/>
<text x="82.9" y="714.6" class="dl3" text-anchor="middle">12</text>
<rect x="65.8" y="638.2" width="34.2" height="36.4" fill="#a5a5a5"/>
<text x="82.9" y="660.0" class="dl3" text-anchor="middle">6</text>
<text x="82.9" y="794.3" class="ax3" text-anchor="middle">2018</text>
<rect x="134.1" y="717.1" width="34.2" height="60.6" fill="#4472c4"/>
<text x="151.2" y="751.0" class="dl3" text-anchor="middle">10</text>
<rect x="134.1" y="662.5" width="34.2" height="54.6" fill="#ed7d31"/>
<text x="151.2" y="693.4" class="dl3" text-anchor="middle">9</text>
<rect x="134.1" y="650.3" width="34.2" height="12.1" fill="#a5a5a5"/>
<text x="151.2" y="660.0" class="dl3" text-anchor="middle">2</text>
<text x="151.2" y="794.3" class="ax3" text-anchor="middle">2019</text>
<rect x="202.4" y="771.6" width="34.2" height="6.1" fill="#4472c4"/>
<text x="219.5" y="778.3" class="dl3" text-anchor="middle">1</text>
<rect x="202.4" y="686.7" width="34.2" height="84.9" fill="#ed7d31"/>
<text x="219.5" y="732.8" class="dl3" text-anchor="middle">14</text>
<rect x="202.4" y="668.5" width="34.2" height="18.2" fill="#a5a5a5"/>
<text x="219.5" y="681.2" class="dl3" text-anchor="middle">3</text>
<text x="219.5" y="794.3" class="ax3" text-anchor="middle">2020</text>
<line x1="48.8" y1="777.7" x2="253.1" y2="777.7" stroke="#a673bd" stroke-width="1"/>
<rect x="263.6" y="632.5" width="4.6" height="4.6" fill="#a5a5a5"/>
<text x="271.3" y="638.6" class="lg3">外校</text>
<rect x="263.6" y="648.6" width="4.6" height="4.6" fill="#ed7d31"/>
<text x="271.3" y="654.7" class="lg3">清华</text>
<rect x="263.6" y="665.1" width="4.6" height="4.6" fill="#4472c4"/>
<text x="271.3" y="671.2" class="lg3">国外</text>
<text x="251.0" y="721.8" class="or" style="font-size:14.3px">•</text>
<text x="264.5" y="721.8" class="or" style="font-size:14.3px">通过做博后</text>
<text x="264.5" y="738.9" class="or" style="font-size:14.3px">留下来的可</text>
<text x="264.5" y="756.0" class="or" style="font-size:14.3px">能性变小了</text>
<text x="496.5" y="622.4" class="ct" text-anchor="middle">教职高校水平</text>
<text x="368.4" y="781.5" class="ax3" text-anchor="end">0</text>
<line x1="377.4" y1="747.4" x2="539.9" y2="747.4" stroke="#e3e3e3" stroke-width="1"/>
<text x="368.4" y="751.2" class="ax3" text-anchor="end">5</text>
<line x1="377.4" y1="717.1" x2="539.9" y2="717.1" stroke="#e3e3e3" stroke-width="1"/>
<text x="368.4" y="720.9" class="ax3" text-anchor="end">10</text>
<line x1="377.4" y1="686.7" x2="539.9" y2="686.7" stroke="#e3e3e3" stroke-width="1"/>
<text x="368.4" y="690.5" class="ax3" text-anchor="end">15</text>
<line x1="377.4" y1="656.4" x2="539.9" y2="656.4" stroke="#e3e3e3" stroke-width="1"/>
<text x="368.4" y="660.2" class="ax3" text-anchor="end">20</text>
<line x1="377.4" y1="626.1" x2="539.9" y2="626.1" stroke="#e3e3e3" stroke-width="1"/>
<text x="368.4" y="629.9" class="ax3" text-anchor="end">25</text>
<rect x="390.9" y="735.2" width="27.3" height="42.5" fill="#5b9bd5"/>
<text x="404.5" y="760.1" class="dl3" text-anchor="middle">7</text>
<rect x="390.9" y="680.7" width="27.3" height="54.6" fill="#ed7d31"/>
<text x="404.5" y="711.6" class="dl3" text-anchor="middle">9</text>
<rect x="390.9" y="674.6" width="27.3" height="6.1" fill="#ffc000"/>
<text x="404.5" y="681.2" class="dl3" text-anchor="middle">1</text>
<text x="404.5" y="794.3" class="ax3" text-anchor="middle">2018</text>
<rect x="445.5" y="759.5" width="27.3" height="18.2" fill="#5b9bd5"/>
<text x="459.1" y="772.2" class="dl3" text-anchor="middle">3</text>
<rect x="445.5" y="753.4" width="27.3" height="6.1" fill="#ff0000"/>
<text x="459.1" y="760.1" class="dl3" text-anchor="middle">1</text>
<text x="459.1" y="794.3" class="ax3" text-anchor="middle">2019</text>
<rect x="500.1" y="753.4" width="27.3" height="24.3" fill="#5b9bd5"/>
<text x="513.7" y="769.2" class="dl3" text-anchor="middle">4</text>
<rect x="500.1" y="741.3" width="27.3" height="12.1" fill="#ed7d31"/>
<text x="513.7" y="751.0" class="dl3" text-anchor="middle">2</text>
<rect x="500.1" y="729.2" width="27.3" height="12.1" fill="#ffc000"/>
<text x="513.7" y="738.8" class="dl3" text-anchor="middle">2</text>
<rect x="500.1" y="723.1" width="27.3" height="6.1" fill="#ff0000"/>
<text x="513.7" y="729.7" class="dl3" text-anchor="middle">1</text>
<text x="513.7" y="794.3" class="ax3" text-anchor="middle">2020</text>
<line x1="377.4" y1="777.7" x2="539.9" y2="777.7" stroke="#a673bd" stroke-width="1"/>
<rect x="551.0" y="634.1" width="4.6" height="4.6" fill="#ff0000"/>
<text x="558.4" y="640.2" class="lg3">一流高校<tspan font-family="Liberation Serif" font-weight="700">A</tspan></text>
<rect x="551.0" y="650.0" width="4.6" height="4.6" fill="#ffc000"/>
<text x="558.4" y="656.1" class="lg3">一流高校<tspan font-family="Liberation Serif" font-weight="700">B</tspan></text>
<rect x="551.0" y="666.4" width="4.6" height="4.6" fill="#ed7d31"/>
<text x="558.4" y="672.5" class="lg3">一流学科高校</text>
<rect x="551.0" y="682.3" width="4.6" height="4.6" fill="#5b9bd5"/>
<text x="558.4" y="688.4" class="lg3">双非</text>
<text x="551.5" y="719.0" class="or">•</text>
<text x="565.0" y="719.0" class="or">人事制度改革后进入更</text>
<text x="565.0" y="739.9" class="or">高水平学校变为可能，</text>
<text x="565.0" y="760.8" class="or">但面临<tspan font-family="Noto Sans CJK SC">“</tspan>非升即走<tspan font-family="Noto Sans CJK SC">”</tspan></text>
<g fill="none" stroke="#7a4a9e" opacity="0.85">
<ellipse cx="612.6" cy="786.2" rx="16.6" ry="18.2" stroke-width="1.70"/>
<ellipse cx="612.6" cy="786.2" rx="13.7" ry="15.1" stroke-width="2.61" stroke-dasharray="1.60 1.50" opacity="0.55"/>
<ellipse cx="612.6" cy="786.2" rx="10.8" ry="11.8" stroke-width="1.20"/>
<ellipse cx="612.6" cy="786.2" rx="7.5" ry="8.2" stroke-width="3.48" stroke-dasharray="1.30 1.10" opacity="0.65"/>
<ellipse cx="612.6" cy="786.2" rx="3.5" ry="3.8" stroke-width="0.80" opacity="0.8"/>
</g>
<text x="612.6" y="788.3" text-anchor="middle" font-size="6.5" fill="#5a2a86" font-family='"Liberation Serif","Noto Serif CJK SC",serif'>★</text>
<text class="cal" font-size="14.6" transform="translate(638.6 789.4) skewX(-11) scale(1,1.75)">清</text>
<text class="cal" font-size="14.6" transform="translate(659.6 789.4) skewX(-11) scale(1,1.75)">華</text>
<text class="cal" font-size="14.6" transform="translate(677.2 789.4) skewX(-11) scale(1,1.75)">大</text>
<text class="cal" font-size="14.6" transform="translate(695.6 789.4) skewX(-11) scale(1,1.75)">學</text>
<text x="674.2" y="804.4" text-anchor="middle" class="en" font-size="7.70" textLength="66.0" lengthAdjust="spacingAndGlyphs">Tsinghua University</text>
<polygon points="1023.8,479.5 1180.8,479.5 1179.8,486.0 1148.8,487.0" fill="#000" fill-opacity="0.4" filter="url(#bl)"/>
<polygon points="1207.3,479.5 1270.0,479.5 1270.0,483.0 1214.3,483.5" fill="#000" fill-opacity="0.35" filter="url(#bl2)"/>
<rect x="731.0" y="415.0" width="462.8" height="65.5" fill="#960ca8"/>
<rect x="1202.3" y="415.0" width="67.7" height="65.5" fill="#ff9900"/>
<text x="766.4" y="457.9" class="ttl" filter="url(#ts)">不搞科研</text>
<text x="762.8" y="520.2" class="kai" text-anchor="middle" letter-spacing="2.5">考试</text>
<text x="762.8" y="762.8" class="kai" text-anchor="middle" letter-spacing="2.5">简历</text>
<polygon points="762.3,538.5 773.5,549.5 767.2,549.5 767.2,722.3 773.5,722.3 762.3,733.3 751.1,722.3 757.4,722.3 757.4,549.5 751.1,549.5" fill="url(#ar)"/>
<rect x="810.3" y="505.1" width="82.9" height="48.2" rx="9" ry="9" class="bx"/>
<text x="851.8" y="526.6" text-anchor="middle" font-size="17.3" font-weight="700" class="bt">公共</text>
<text x="851.8" y="548.3" text-anchor="middle" font-size="17.3" font-weight="700" class="bt">事业类</text>
<rect x="810.3" y="598.6" width="82.9" height="48.7" rx="9" ry="9" class="bx"/>
<text x="851.8" y="620.1" text-anchor="middle" font-size="17.3" font-weight="700" class="bt">环境</text>
<text x="851.8" y="640.3" text-anchor="middle" font-size="17.3" font-weight="700" class="bt">行业</text>
<rect x="810.3" y="728.0" width="82.9" height="48.7" rx="9" ry="9" class="bx"/>
<text x="851.8" y="749.1" text-anchor="middle" font-size="17.3" font-weight="700" class="bt">其他</text>
<text x="851.8" y="770.1" text-anchor="middle" font-size="17.3" font-weight="700" class="bt">行业</text>
<path d="M893.2 529.3 L907.5 529.3" class="ln"/>
<path d="M922.0 510.4 L907.5 510.4 L907.5 549.7 L922.0 549.7" class="ln"/>
<rect x="922.0" y="493.5" width="55.7" height="32.8" rx="5.2" ry="5.2" class="bx"/>
<text x="950.1" y="517.1" text-anchor="middle" font-size="16" font-weight="500" letter-spacing="0.5" class="bt">选调</text>
<rect x="988.1" y="494.3" width="88.9" height="33.0" rx="5.2" ry="5.2" class="bx"/>
<text x="1032.8" y="517.4" text-anchor="middle" font-size="16.2" font-weight="500" letter-spacing="0.5" class="bt">地方引才</text>
<rect x="1087.3" y="494.3" width="98.3" height="33.0" rx="5.2" ry="5.2" class="bx"/>
<text x="1136.7" y="518.1" text-anchor="middle" font-size="16.2" font-weight="500" letter-spacing="0.5" class="bt">一般公务员</text>
<rect x="922.0" y="534.1" width="88.7" height="31.7" rx="5.2" ry="5.2" class="bx"/>
<text x="966.6" y="557.2" text-anchor="middle" font-size="16.2" font-weight="500" letter-spacing="0.5" class="bt">事业单位</text>
<rect x="1026.3" y="534.1" width="97.4" height="31.7" rx="5.2" ry="5.2" class="bx"/>
<text x="1075.2" y="557.2" text-anchor="middle" font-size="16.2" font-weight="500" letter-spacing="0.5" class="bt">事务类</text>
<rect x="1131.0" y="535.1" width="123.4" height="30.7" rx="5.2" ry="5.2" class="bx"/>
<text x="1193.0" y="557.8" text-anchor="middle" font-size="16.2" font-weight="500" letter-spacing="0.5" class="bt">高校新事业编</text>
<path d="M1010.7 549.6 L1026.3 549.6" class="ln"/>
<path d="M893.2 622.9 L907.3 622.9" class="ln"/>
<path d="M922.0 593.7 L907.3 593.7 L907.3 653.9 L922.0 653.9" class="ln"/>
<rect x="922.0" y="577.5" width="88.7" height="31.7" rx="5.2" ry="5.2" class="bx"/>
<text x="966.6" y="601.0" text-anchor="middle" font-size="16.2" font-weight="500" letter-spacing="0.5" class="bt">事业单位</text>
<rect x="1027.6" y="577.5" width="97.7" height="31.7" rx="5.2" ry="5.2" class="bx"/>
<text x="1076.7" y="600.0" text-anchor="middle" font-size="16.2" font-weight="500" letter-spacing="0.5" class="bt">政策支撑类</text>
<rect x="1133.1" y="577.5" width="97.2" height="31.3" rx="5.2" ry="5.2" class="bx"/>
<text x="1181.9" y="600.0" text-anchor="middle" font-size="16.2" font-weight="500" letter-spacing="0.5" class="bt">如规划院</text>
<path d="M1010.7 593.6 L1027.6 593.6" class="ln"/>
<path d="M1125.3 593.6 L1133.1 593.6" class="ln"/>
<path d="M1128.8 590.4 L1128.8 596.8" class="ln"/>
<path d="M966.3 609.2L966.3 637.4" class="ln" marker-end="url(#ah)"/>
<text x="947.5" y="630.5" class="kai2" text-anchor="middle" letter-spacing="0.8" style="font-size:13.5px">逐步</text>
<text x="985.5" y="630.5" class="kai2" text-anchor="middle" letter-spacing="0.8" style="font-size:13.5px">转企</text>
<rect x="922.0" y="638.3" width="88.7" height="32.5" rx="5.2" ry="5.2" class="bx"/>
<text x="966.6" y="661.8" text-anchor="middle" font-size="16.2" font-weight="500" letter-spacing="0.5" class="bt">企业</text>
<path d="M1010.7 654.7 L1020.0 654.7" class="ln"/>
<path d="M1027.6 635.9 L1020.0 635.9 L1020.0 673.7 L1027.6 673.7" class="ln"/>
<rect x="1027.6" y="619.8" width="89.1" height="32.2" rx="5.2" ry="5.2" class="bx"/>
<text x="1072.4" y="642.4" text-anchor="middle" font-size="16.2" font-weight="500" letter-spacing="0.5" class="bt">项目运作</text>
<rect x="1125.3" y="619.8" width="88.9" height="32.2" rx="5.2" ry="5.2" class="bx"/>
<text x="1170.0" y="642.8" text-anchor="middle" font-size="16.2" font-weight="500" letter-spacing="0.5" class="bt"><tspan textLength="25" lengthAdjust="spacingAndGlyphs">EHS</tspan>管理</text>
<rect x="1027.6" y="657.8" width="89.1" height="32.5" rx="5.2" ry="5.2" class="bx"/>
<text x="1072.4" y="681.1" text-anchor="middle" font-size="16.2" font-weight="500" letter-spacing="0.5" class="bt">行业研究</text>
<rect x="1125.0" y="656.8" width="134.6" height="33.0" rx="5.2" ry="5.2" class="bx"/>
<text x="1192.5" y="680.3" text-anchor="middle" font-size="16.2" font-weight="500" letter-spacing="0.5" class="bt">规划<tspan dx="2.3">/</tspan><tspan dx="2.3">设计</tspan><tspan dx="2.3">/</tspan><tspan dx="2.3">咨询</tspan></text>
<path d="M893.2 751.7 L922.0 751.7" class="ln"/>
<path d="M922.0 715.9 L907.0 715.9 L907.0 787.6 L922.0 787.6" class="ln"/>
<rect x="922.0" y="699.6" width="88.7" height="32.5" rx="5.2" ry="5.2" class="bx"/>
<text x="966.6" y="723.0" text-anchor="middle" font-size="16.2" font-weight="500" letter-spacing="0.5" class="bt">教育行业</text>
<rect x="922.0" y="736.0" width="88.7" height="32.5" rx="5.2" ry="5.2" class="bx"/>
<text x="966.6" y="759.5" text-anchor="middle" font-size="16.2" font-weight="500" letter-spacing="0.5" class="bt">金融</text>
<rect x="922.0" y="771.6" width="88.7" height="32.5" rx="5.2" ry="5.2" class="bx"/>
<text x="966.6" y="794.9" text-anchor="middle" font-size="16.2" font-weight="500" letter-spacing="0.5" class="bt">互联网</text>
<path d="M1010.7 716.3 L1023.2 716.3" class="ln"/>
<path d="M1010.7 751.6 L1023.2 751.6" class="ln"/>
<path d="M1010.7 787.7 L1023.2 787.7" class="ln"/>
<rect x="1023.2" y="700.7" width="88.3" height="31.2" rx="5.2" ry="5.2" class="bx"/>
<text x="1067.6" y="723.2" text-anchor="middle" font-size="16.2" font-weight="500" letter-spacing="0.5" class="bt">中学教师</text>
<rect x="1125.0" y="700.7" width="89.2" height="31.2" rx="5.2" ry="5.2" class="bx"/>
<text x="1169.8" y="723.2" text-anchor="middle" font-size="16.2" font-weight="500" letter-spacing="0.5" class="bt">培训机构</text>
<rect x="1023.2" y="736.0" width="50.6" height="32.5" rx="5.2" ry="5.2" class="bx"/>
<text x="1048.8" y="759.0" text-anchor="middle" font-size="16.2" font-weight="500" letter-spacing="0.5" class="bt">证券</text>
<rect x="1082.2" y="736.0" width="50.1" height="32.5" rx="5.2" ry="5.2" class="bx"/>
<text x="1107.5" y="759.0" text-anchor="middle" font-size="16.2" font-weight="500" letter-spacing="0.5" class="bt">银行</text>
<rect x="1023.2" y="771.6" width="109.1" height="32.5" rx="5.2" ry="5.2" class="bx"/>
<text x="1078.0" y="794.6" text-anchor="middle" font-size="16.2" font-weight="500" letter-spacing="0.5" class="bt">智慧<tspan dx="1.8">/</tspan><tspan dx="1.8">云业务</tspan></text>
<g fill="none" stroke="#6f5a94" opacity="0.85">
<ellipse cx="1185.3" cy="789.8" rx="13.8" ry="13.8" stroke-width="1.38"/>
<ellipse cx="1185.3" cy="789.8" rx="11.5" ry="11.4" stroke-width="2.17" stroke-dasharray="1.30 1.22" opacity="0.55"/>
<ellipse cx="1185.3" cy="789.8" rx="9.0" ry="8.9" stroke-width="0.97"/>
<ellipse cx="1185.3" cy="789.8" rx="6.2" ry="6.2" stroke-width="2.90" stroke-dasharray="1.05 0.89" opacity="0.65"/>
<ellipse cx="1185.3" cy="789.8" rx="2.9" ry="2.9" stroke-width="0.65" opacity="0.8"/>
</g>
<text x="1185.3" y="791.4" text-anchor="middle" font-size="4.9" fill="#5a2a86" font-family='"Liberation Serif","Noto Serif CJK SC",serif'>★</text>
<text class="cal" font-size="11.8" transform="translate(1206.4 792.4) skewX(-11) scale(1,1.75)">清</text>
<text class="cal" font-size="11.8" transform="translate(1223.4 792.4) skewX(-11) scale(1,1.75)">華</text>
<text class="cal" font-size="11.8" transform="translate(1237.6 792.4) skewX(-11) scale(1,1.75)">大</text>
<text class="cal" font-size="11.8" transform="translate(1252.5 792.4) skewX(-11) scale(1,1.75)">學</text>
<text x="1235.2" y="804.5" text-anchor="middle" class="en" font-size="6.24" textLength="53.5" lengthAdjust="spacingAndGlyphs">Tsinghua University</text>
</svg></body></html>
